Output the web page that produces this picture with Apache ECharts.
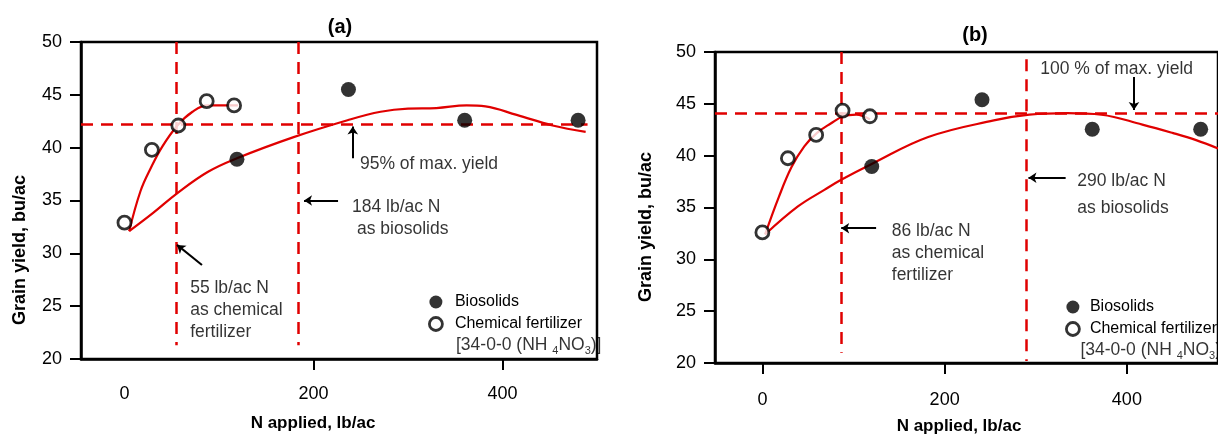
<!DOCTYPE html>
<html><head><meta charset="utf-8">
<script src="https://cdn.jsdelivr.net/npm/echarts@6.0.0/dist/echarts.min.js"></script>
<style>html,body{margin:0;padding:0;background:#fff}#c{width:1218px;height:434px}</style>
</head><body><div id="c"></div>
<script>
// ---------- data ----------
const xTickLabels = [0, 200, 400];
const panelTitles = ['(a)', '(b)'];
const seriesNames = ['Biosolids', 'Chemical fertilizer'];
const xAxisTitle = 'N applied, lb/ac';
const yAxisTitle = 'Grain yield, bu/ac';

// Panel (a)
const bioA = [[119, 38.9], [237, 45.5], [360, 42.6], [480, 42.6]];
const chemA = [[0, 32.9], [29, 39.8], [57, 42.1], [87, 44.4], [116, 44.0]];
const bioCurveA = [[5, 32.1], [30, 33.8], [56, 35.7], [88, 37.7], [119, 39.0], [179, 41.0], [236, 42.6], [271, 43.4], [300, 43.7], [330, 43.75], [362, 44.0], [382, 43.9], [415, 43.1], [453, 42.1], [488, 41.5]];
const chemCurveA = [[5, 32.1], [17, 35.9], [28, 38.1], [40, 40.1], [56, 42.1], [72, 43.4], [88, 44.0], [120, 44.0]];
const refYieldA = 42.2;
const refNA = [55, 184];

// Panel (b)
const bioB = [[120, 38.95], [241, 45.4], [362, 42.55], [481, 42.55]];
const chemB = [[0, 32.6], [28, 39.75], [59, 42.0], [88, 44.35], [118, 43.8]];
const bioCurveB = [[3, 32.4], [39, 35.1], [68, 36.7], [86, 37.65], [120, 39.2], [182, 41.8], [254, 43.4], [293, 43.95], [335, 44.1], [372, 43.95], [417, 43.0], [450, 42.2], [476, 41.5], [500, 40.7]];
const chemCurveB = [[3, 32.4], [18, 36.0], [32, 38.9], [46, 40.9], [60, 42.2], [75, 43.1], [89, 43.8], [103, 43.95], [118, 43.5]];
const refYieldB = 44.1;
const refNB = [86, 290];

// annotation texts
const notesTextA = ['95% of max. yield', '184 lb/ac N', 'as biosolids', '55 lb/ac N\nas chemical\nfertilizer', '[34-0-0 (NH {sub|4}NO{sub|3})]'];
const notesTextB = ['100 % of max. yield', '290 lb/ac N', 'as biosolids', '86 lb/ac N\nas chemical\nfertilizer', '[34-0-0 (NH {sub|4}NO{sub|3})]'];

// ---------- layout (annotation anchors in data coords) ----------
const notesPosA = [[249.2, 38.4], [240.7, 34.4], [246, 32.3], [69.5, 24.6], [350.8, 21.3]];
const notesPosB = [[305, 48.36], [345.6, 37.56], [345.6, 34.95], [142, 30.6], [349, 21.25]];
const arrowsA = [[[241.6, 39.0], [241.6, 42.0]], [[226, 35.0], [190, 35.0]], [[82, 28.9], [55.6, 30.8]]];
const arrowsB = [[[407.8, 47.6], [407.8, 44.4]], [[332.8, 37.87], [292, 37.87]], [[124.8, 33.0], [86.5, 33.0]]];

const RED = '#e00000';
const FONT = 'Liberation Sans, Arial, sans-serif';

function panelSeries(idx, bio, chem, bioCurve, chemCurve, refY, refN, notesText, notesPos, arrows, hEnd, vEnds) {
  const ax = {xAxisIndex: idx, yAxisIndex: idx};
  return [
    Object.assign({
      type: 'scatter', data: [], silent: true, z: 1,
      markLine: {
        silent: true, symbol: ['none', 'none'], label: {show: false},
        lineStyle: {color: RED, width: 2.5, type: [12, 8]},
        data: [[{coord: [hEnd[0], refY]}, {coord: [hEnd[1], refY]}]].concat(
          refN.map((n, i) => [{coord: [n, vEnds[i][0]]}, {coord: [n, vEnds[i][1]]}]))
      }
    }, ax),
    Object.assign({type: 'line', data: bioCurve, smooth: 0.4, showSymbol: false, silent: true, z: 2,
      lineStyle: {color: RED, width: 2.2}}, ax),
    Object.assign({type: 'line', data: chemCurve, smooth: 0.4, showSymbol: false, silent: true, z: 2,
      lineStyle: {color: RED, width: 2.2}}, ax),
    Object.assign({name: seriesNames[0], type: 'scatter', data: bio, symbolSize: 15, z: 5,
      itemStyle: {color: '#000'}}, ax),
    Object.assign({name: seriesNames[1], type: 'scatter', data: chem, symbolSize: 13, z: 6,
      itemStyle: {color: '#fff', borderColor: '#000', borderWidth: 2.8}}, ax),
    Object.assign({
      type: 'scatter', silent: true, symbolSize: 0, z: 7,
      data: notesText.map((t, i) => ({value: notesPos[i], name: t})),
      label: {
        show: true, position: 'right', distance: 0, formatter: p => p.name,
        color: '#000', fontFamily: FONT, fontSize: 17.5, lineHeight: 22,
        rich: {sub: {fontSize: 11, lineHeight: 11, verticalAlign: 'bottom', fontFamily: FONT, color: '#000'}}
      },
      markLine: {
        silent: true, symbol: ['none', 'arrow'], symbolSize: 8, label: {show: false},
        lineStyle: {color: '#000', width: 2, type: 'solid'},
        data: arrows.map(a => [{coord: a[0]}, {coord: a[1]}])
      }
    }, ax)
  ];
}

const chart = echarts.init(document.getElementById('c'), null, {renderer: 'canvas'});

function xAxisCfg(idx, min, ticks, margin) {
  return {
    type: 'value', gridIndex: idx, min: min, max: 500,
    axisLine: {show: true, onZero: false, lineStyle: {color: '#000', width: 2.5}},
    axisTick: {show: true, inside: false, length: 11, lineStyle: {color: '#000', width: 2}, customValues: ticks},
    axisLabel: {show: true, customValues: xTickLabels, margin: margin, color: '#000', fontSize: 18, fontFamily: FONT},
    splitLine: {show: false}
  };
}
function yAxisCfg(idx) {
  return {
    type: 'value', gridIndex: idx, min: 20, max: 50, interval: 5,
    axisLine: {show: true, onZero: false, lineStyle: {color: '#000', width: 2.5}},
    axisTick: {show: true, inside: false, length: 11, lineStyle: {color: '#000', width: 2}},
    axisLabel: {margin: 19, color: '#000', fontSize: 18, fontFamily: FONT},
    splitLine: {show: false}
  };
}

const legendCommon = {
  orient: 'vertical', icon: 'circle', itemHeight: 13, itemGap: 6, selectedMode: false,
  textStyle: {color: '#000', fontSize: 16, fontFamily: FONT},
  data: [
    {name: seriesNames[0], itemStyle: {color: '#000'}},
    {name: seriesNames[1], itemStyle: {color: '#fff', borderColor: '#000', borderWidth: 2.8}}
  ]
};

chart.setOption({
  animation: false,
  backgroundColor: '#fff',
  title: [
    {text: panelTitles[0], left: 335, top: 12, textAlign: 'center',
      textStyle: {fontSize: 20, fontWeight: 'bold', fontFamily: FONT, color: '#000'}},
    {text: panelTitles[1], left: 970, top: 20, textAlign: 'center',
      textStyle: {fontSize: 20, fontWeight: 'bold', fontFamily: FONT, color: '#000'}}
  ],
  grid: [
    {left: 81, top: 42, width: 516, height: 317, show: true, borderColor: '#000', borderWidth: 2.5, backgroundColor: 'transparent'},
    {left: 715, top: 52, width: 515, height: 311, show: true, borderColor: '#000', borderWidth: 2.5, backgroundColor: 'transparent'}
  ],
  xAxis: [xAxisCfg(0, -46, [200, 400], 26), xAxisCfg(1, -52, [0, 200, 400], 28)],
  yAxis: [yAxisCfg(0), yAxisCfg(1)],
  legend: [
    Object.assign({}, legendCommon, {left: 423, top: 289, itemWidth: 28}),
    Object.assign({}, legendCommon, {left: 1060, top: 294, itemWidth: 24})
  ],
  graphic: [
    {type: 'text', x: 20, y: 250, rotation: Math.PI / 2,
      style: {text: yAxisTitle, fill: '#000', font: 'bold 18px ' + FONT, align: 'center', verticalAlign: 'middle'}},
    {type: 'text', x: 646, y: 227, rotation: Math.PI / 2,
      style: {text: yAxisTitle, fill: '#000', font: 'bold 18px ' + FONT, align: 'center', verticalAlign: 'middle'}},
    {type: 'text', x: 313, y: 423,
      style: {text: xAxisTitle, fill: '#000', font: 'bold 17px ' + FONT, align: 'center', verticalAlign: 'middle'}},
    {type: 'text', x: 959, y: 426,
      style: {text: xAxisTitle, fill: '#000', font: 'bold 17px ' + FONT, align: 'center', verticalAlign: 'middle'}}
  ],
  series: [].concat(
    panelSeries(0, bioA, chemA, bioCurveA, chemCurveA, refYieldA, refNA, notesTextA, notesPosA, arrowsA,
      [-46, 490], [[50, 21.3], [50, 21.3]]),
    panelSeries(1, bioB, chemB, bioCurveB, chemCurveB, refYieldB, refNB, notesTextB, notesPosB, arrowsB,
      [-52, 500], [[50, 21.0], [49.3, 20.2]])
  )
});
</script></body></html>
